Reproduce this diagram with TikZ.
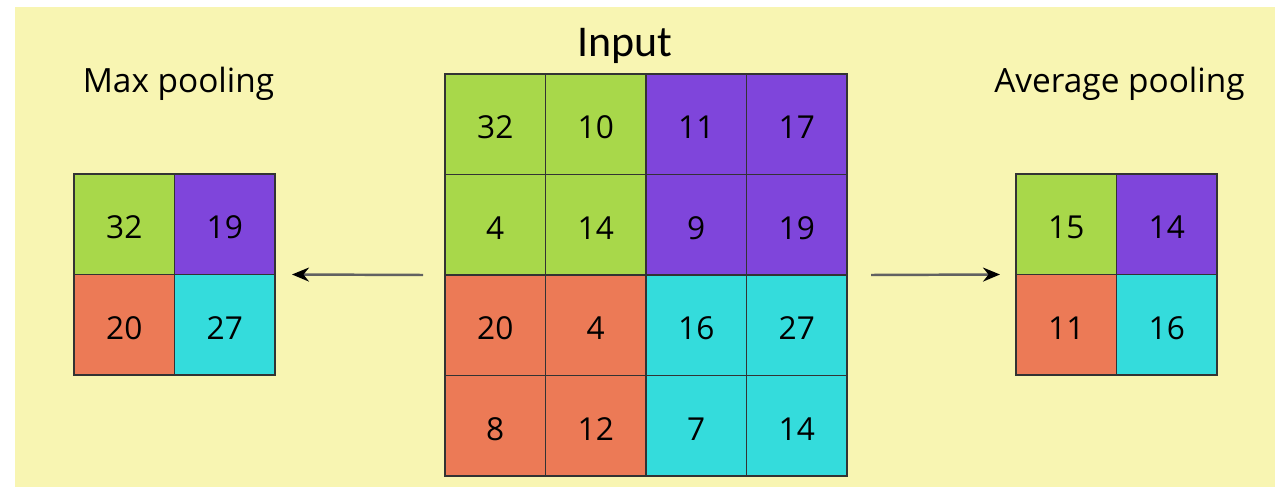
\documentclass[tikz,border=0pt]{standalone}
\usepackage{fontspec}
\setmainfont{Open Sans}
\newfontfamily\inputfont{Carlito}
\usetikzlibrary{arrows.meta, positioning}
\definecolor{poolbg}{HTML}{F8F5B2}
\definecolor{poolgreen}{HTML}{A8D84A}
\definecolor{poolpurple}{HTML}{7F45DB}
\definecolor{poolorange}{HTML}{EC7A56}
\definecolor{poolcyan}{HTML}{34DCDC}
\tikzset{
    cell/.style = {
        draw=black!80, line width=0.6pt, minimum size=2.01cm,
        inner sep=0pt, outer sep=0pt, text height=16.6pt, text depth=0pt,
        font=\fontsize{18}{20}\selectfont
    },
    % Cell colours
    greencell/.style  = {cell, fill=poolgreen},
    purplecell/.style = {cell, fill=poolpurple},
    orangecell/.style = {cell, fill=poolorange},
    cyancell/.style   = {cell, fill=poolcyan},
    % Titles and arrows
    title/.style = {anchor=base, inner sep=0pt, font=\fontsize{19}{21}\selectfont},
    arrow/.style = {line width=1.4pt, draw=black!62, -{Stealth[length=0.34cm, width=0.28cm, black]}}
}

\begin{document}
\begin{tikzpicture}[node distance=0cm]
    \useasboundingbox (0,0) rectangle (25.62,-9.74);
    \fill[poolbg] (0.3,-0.14) rectangle (25.5,-9.74);

    % Input grid
    \node (in11) [greencell] at (9.905,-2.485) {32};
    \node (in12) [greencell, right=of in11] {10};
    \node (in13) [purplecell, right=of in12] {11};
    \node (in14) [purplecell, right=of in13] {17};
    \node (in21) [greencell, below=of in11] {4};
    \node (in22) [greencell, right=of in21] {14};
    \node (in23) [purplecell, right=of in22] {9};
    \node (in24) [purplecell, right=of in23] {19};
    \node (in31) [orangecell, below=of in21] {20};
    \node (in32) [orangecell, right=of in31] {4};
    \node (in33) [cyancell, right=of in32] {16};
    \node (in34) [cyancell, right=of in33] {27};
    \node (in41) [orangecell, below=of in31] {8};
    \node (in42) [orangecell, right=of in41] {12};
    \node (in43) [cyancell, right=of in42] {7};
    \node (in44) [cyancell, right=of in43] {14};

    % Max pooling grid
    \node (mx11) [greencell] at (2.485,-4.485) {32};
    \node (mx12) [purplecell, right=of mx11] {19};
    \node (mx21) [orangecell, below=of mx11] {20};
    \node (mx22) [cyancell, right=of mx21] {27};

    % Average pooling grid
    \node (av11) [greencell] at (21.325,-4.485) {15};
    \node (av12) [purplecell, right=of av11] {14};
    \node (av21) [orangecell, below=of av11] {11};
    \node (av22) [cyancell, right=of av21] {16};

    \node (inputlabel) [title, font=\inputfont\fontsize{25}{28}\selectfont] at ([xshift=-0.42cm, yshift=0.35cm]in12.north east) {Input};
    \node (maxlabel) [title] at ([xshift=0.08cm, yshift=1.62cm]mx11.north east) {Max pooling};
    \node (avglabel) [title] at ([xshift=0.06cm, yshift=1.62cm]av11.north east) {Average pooling};

    \draw [arrow] ([xshift=-0.44cm]in31.north west) -- ([xshift=0.34cm]mx22.north east);
    \draw [arrow] ([xshift=0.48cm]in34.north east) -- ([xshift=-0.32cm]av21.north west);
\end{tikzpicture}
\end{document}
